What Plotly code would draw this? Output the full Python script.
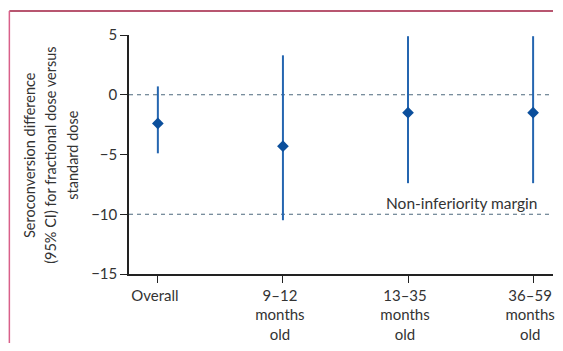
import plotly.graph_objects as go

categories = ["Overall", "9–12<br>months<br>old", "13–35<br>months<br>old", "36–59<br>months<br>old"]
estimates = [-2.4, -4.3, -1.5, -1.5]
ci_upper = [0.7, 3.3, 4.9, 4.9]
ci_lower = [-4.9, -10.5, -7.4, -7.4]
ref_lines = [0, -10]
y_ticks = [5, 0, -5, -10, -15]
y_title_lines = ["Seroconversion difference", "(95% CI) for fractional dose versus", "standard dose"]

FONT = "Lato"
OFF = 8  # page body margin
W, H = 563 - 2 * OFF, 351 - 2 * OFF
ML, MT = 129 - OFF, 35 - OFF
MB = H - (274 - OFF)
MR = 0
pw = W - ML - MR
ph = H - MT - MB

def px_x(x):  # reference pixel -> paper
    return (x - OFF - ML) / pw

def px_y(y):
    return (H - MB - (y - OFF)) / ph

xpos = list(range(len(categories)))
plus = [u - e for u, e in zip(ci_upper, estimates)]
minus = [e - l for e, l in zip(estimates, ci_lower)]

# x scale: category 0 at ref px 158, spacing 125.67 px; plot spans ref px 129..(W+OFF)
step = 125.67
xr = [(129 - 158) / step, (W + OFF - 158) / step]

fig = go.Figure()
fig.add_trace(go.Scatter(
    x=xpos, y=estimates, mode="markers",
    marker=dict(symbol="diamond", size=9, color="#0b4f9c"),
    error_y=dict(type="data", symmetric=False, array=plus, arrayminus=minus,
                 color="#2566b0", thickness=2, width=0),
    showlegend=False, hoverinfo="skip",
))

for yv in ref_lines:
    fig.add_shape(type="line", xref="x", yref="y", x0=xr[0], x1=xr[1], y0=yv, y1=yv,
                  line=dict(color="#4d6a7e", width=1.2, dash="4px,4px"), layer="below")

# frame lines
fig.add_shape(type="line", xref="paper", yref="paper",
              x0=px_x(8.8), x1=1, y0=px_y(11), y1=px_y(11),
              line=dict(color="#a01e40", width=1.5))
fig.add_shape(type="line", xref="paper", yref="paper",
              x0=px_x(8.8), x1=px_x(8.8), y0=px_y(11), y1=px_y(H + OFF),
              line=dict(color="#d9608a", width=1.5))

fig.add_annotation(x=px_x(541), y=px_y(203), xref="paper", yref="paper", text="Non-inferiority margin",
                   showarrow=False, xanchor="right", yanchor="middle",
                   font=dict(family=FONT, size=15.5, color="#333333"))

for xc, line in zip([29, 50, 72], y_title_lines):
    fig.add_annotation(x=px_x(xc), y=0.5, xref="paper", yref="paper",
                       text=line, textangle=-90, showarrow=False,
                       xanchor="center", yanchor="middle",
                       font=dict(family=FONT, size=14.5, color="#333333"))

fig.update_layout(
    width=W, height=H,
    margin=dict(l=ML, r=MR, t=MT, b=MB, pad=0),
    paper_bgcolor="white", plot_bgcolor="white",
    font=dict(family=FONT, size=15, color="#333333"),
    xaxis=dict(range=xr, tickmode="array", tickvals=xpos, ticktext=categories,
               ticklabeloverflow="allow", ticklabelshift=-3,
               showgrid=False, zeroline=False, showline=True, linecolor="#222222", linewidth=1.5,
               ticks="outside", ticklen=7, tickcolor="#222222", tickwidth=1.2,
               tickfont=dict(family=FONT, size=15, color="#333333")),
    yaxis=dict(range=[-15, 5], tickmode="array", tickvals=y_ticks,
               showgrid=False, zeroline=False, showline=True, linecolor="#222222", linewidth=1.5,
               ticks="outside", ticklen=7, tickcolor="#222222", tickwidth=1.2,
               tickfont=dict(family=FONT, size=15, color="#333333")),
)

fig.write_html("out.html")
